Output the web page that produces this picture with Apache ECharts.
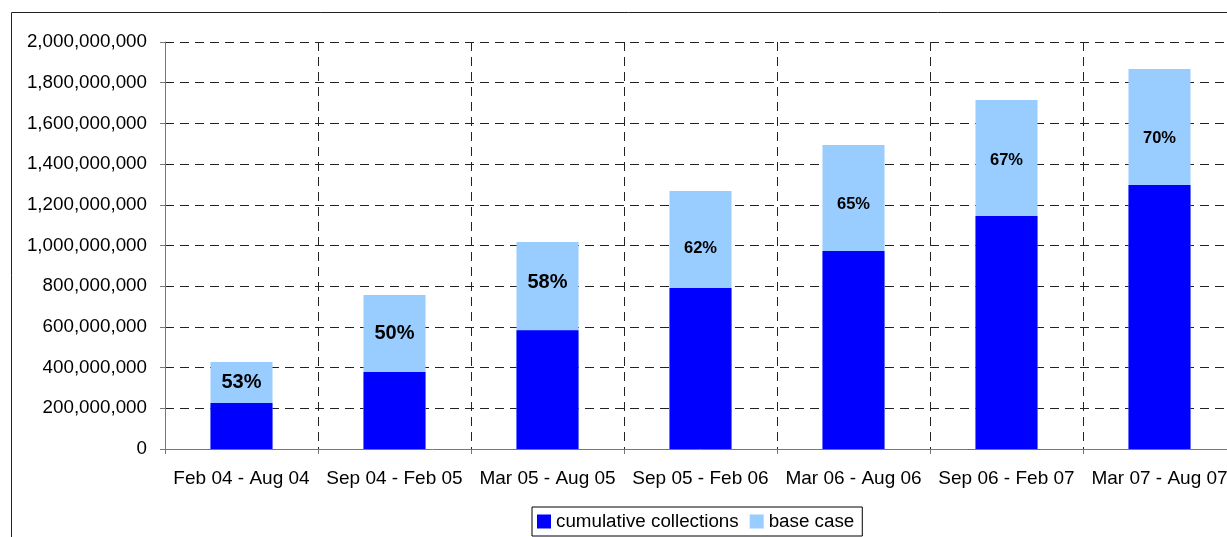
<!DOCTYPE html>
<html>
<head>
<meta charset="utf-8">
<script src="https://cdn.jsdelivr.net/npm/echarts@6/dist/echarts.min.js"></script>
<style>
html,body{margin:0;padding:0;background:#fff;overflow:hidden;}
#chart{width:1245px;height:537px;}
</style>
</head>
<body>
<div id="chart"></div>
<script>
const categories = ['Feb 04 - Aug 04','Sep 04 - Feb 05','Mar 05 - Aug 05','Sep 05 - Feb 06','Mar 06 - Aug 06','Sep 06 - Feb 07','Mar 07 - Aug 07'];
const cumulativeCollections = [226e6, 378e6, 583e6, 791e6, 973e6, 1145e6, 1297e6];
const baseCase = [427e6, 757e6, 1017e6, 1268e6, 1494e6, 1715e6, 1867e6];
const pctLabels = ['53%','50%','58%','62%','65%','67%','70%'];
const yTicks = { min: 0, max: 2000000000, interval: 200000000 };

const FONT = '"Liberation Sans", Arial, sans-serif';
const chart = echarts.init(document.getElementById('chart'), null, {renderer:'canvas'});
const diff = baseCase.map((v,i)=>v - cumulativeCollections[i]);
const labelNudge = [0,0,-4,9,6,2,11];

chart.setOption({
  animation:false,
  backgroundColor:'#fff',
  graphic:[{
    type:'rect', silent:true, z:-1,
    shape:{x:11.5,y:12.5,width:2000,height:1000},
    style:{fill:'none',stroke:'#222',lineWidth:1}
  }],
  grid:{left:165, top:42, width:1071, height:407, containLabel:false},
  legend:{
    data:['cumulative collections','base case'],
    left:532, top:507,
    itemWidth:14, itemHeight:14, itemGap:11,
    padding:[5,8,5,5],
    borderColor:'#000', borderWidth:1,
    textStyle:{fontFamily:FONT,fontSize:18.8,color:'#000'},
    icon:'rect'
  },
  xAxis:{
    type:'category', data:categories,
    axisLine:{lineStyle:{color:'#777',width:1}},
    axisTick:{show:true,length:5,lineStyle:{color:'#777'}},
    axisLabel:{fontFamily:FONT,fontSize:19,color:'#000',margin:20,interval:0},
    splitLine:{show:true,lineStyle:{color:'#222',type:[9,6],width:1}}
  },
  yAxis:{
    type:'value', min:yTicks.min, max:yTicks.max, interval:yTicks.interval,
    axisLine:{show:true,lineStyle:{color:'#777',width:1}},
    axisTick:{show:true,length:5,lineStyle:{color:'#777'}},
    axisLabel:{fontFamily:FONT,fontSize:18.8,color:'#000',margin:18,
      formatter:v=>v.toLocaleString('en-US')},
    splitLine:{show:true,lineStyle:{color:'#222',type:[9,6],width:1}}
  },
  series:[
    {name:'base case',type:'bar',data:baseCase,barWidth:62,barGap:'-100%',
      itemStyle:{color:'#99CCFF'}},
    {name:'cumulative collections',type:'bar',data:cumulativeCollections,barWidth:62,barGap:'-100%',
      itemStyle:{color:'#0000FF'}},
    {name:'_h1',type:'bar',stack:'lbl',data:cumulativeCollections,barWidth:62,barGap:'-100%',silent:true,
      itemStyle:{color:'rgba(0,0,0,0)'}},
    {name:'_h2',type:'bar',stack:'lbl',barWidth:62,barGap:'-100%',silent:true,
      itemStyle:{color:'rgba(0,0,0,0)'},
      data:diff.map((v,i)=>({value:v,label:{fontSize:i<3?20:16.5,offset:[0,labelNudge[i]]}})),
      label:{show:true,position:'inside',color:'#000',fontWeight:'bold',fontFamily:FONT,
        formatter:p=>pctLabels[p.dataIndex]}}
  ]
});
</script>
</body>
</html>
